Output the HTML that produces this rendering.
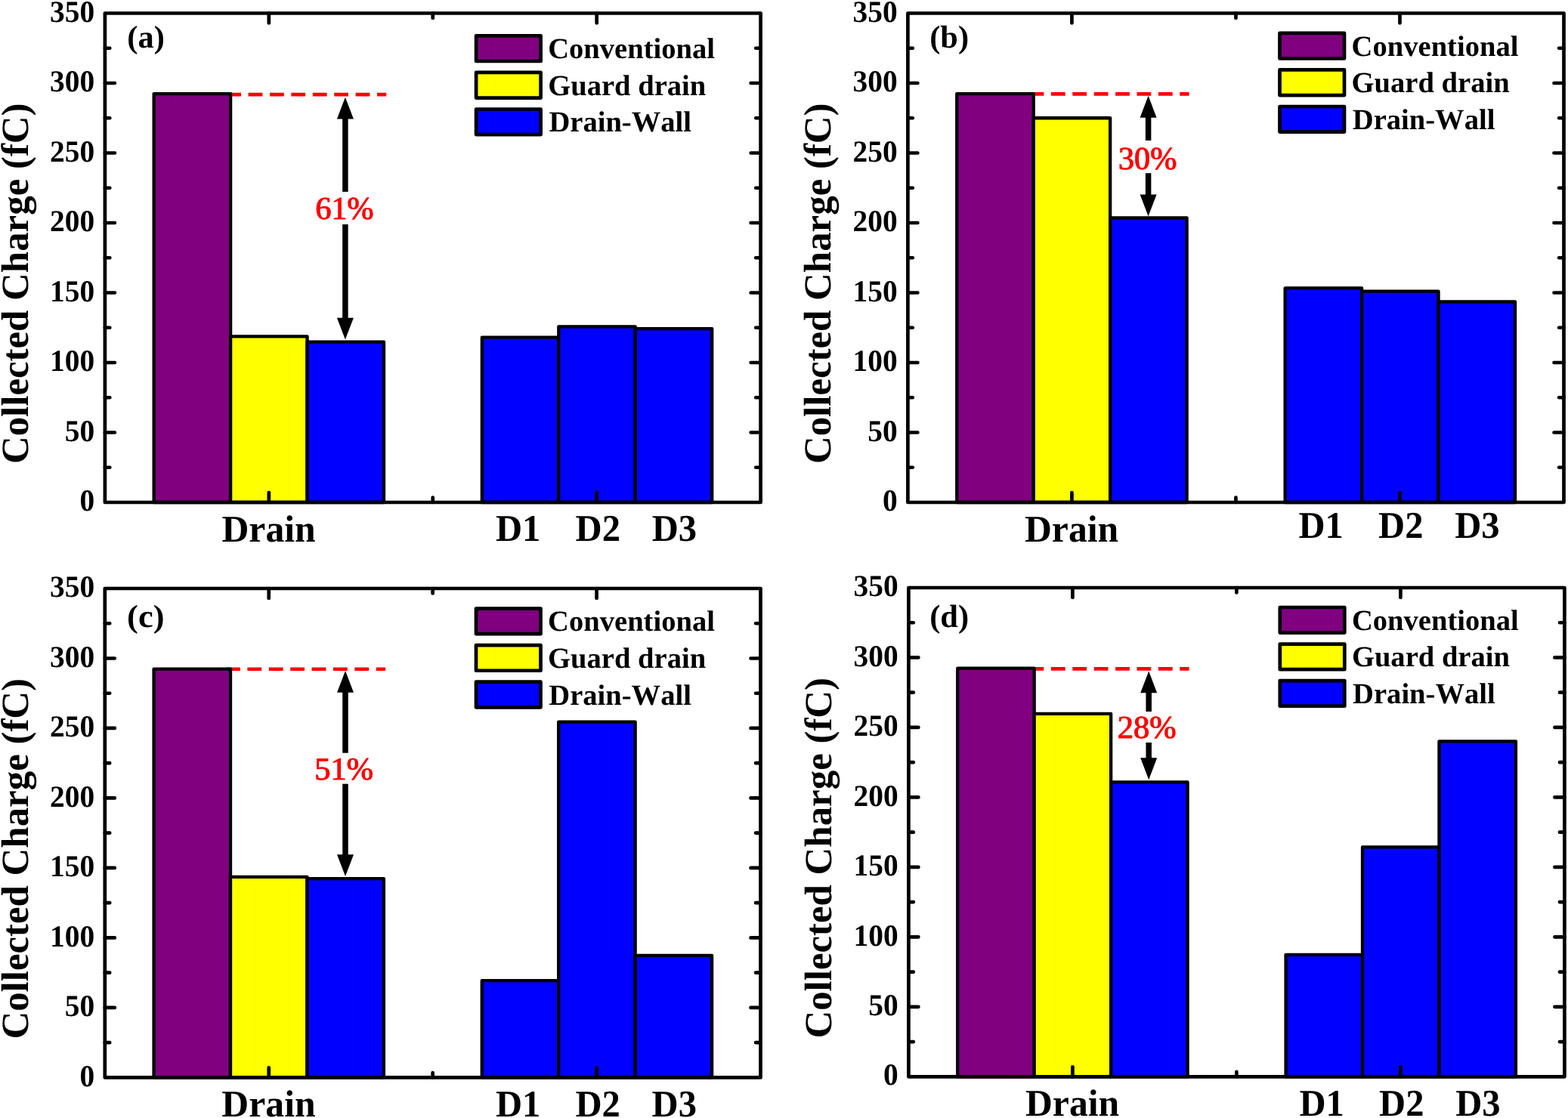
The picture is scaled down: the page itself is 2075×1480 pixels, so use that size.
<!DOCTYPE html>
<html lang="en">
<head>
<meta charset="utf-8">
<title>Collected Charge (fC) - Drain, D1, D2, D3</title>
<style>
html,body{margin:0;padding:0;background:#fff;}
body{width:2075px;height:1480px;overflow:hidden;}
svg{display:block;}
text{font-family:"Liberation Serif","Times New Roman",Times,serif;font-weight:bold;font-kerning:none;font-variant-ligatures:none;white-space:pre;text-rendering:geometricPrecision;}
.r{font-weight:normal;}
</style>
</head>
<body>
<svg width="2075" height="1480" viewBox="0 0 2075 1480">
<defs><filter id="fb" x="-10%" y="-10%" width="120%" height="120%" color-interpolation-filters="sRGB"><feOffset in="SourceGraphic" dx="0.9" dy="0" result="o"/><feMerge><feMergeNode in="SourceGraphic"/><feMergeNode in="o"/></feMerge></filter></defs>
<rect width="2075" height="1480" fill="#fff"/>
<g>
<path d="M300.2 125.16H511.3" stroke="#ff0000" stroke-width="4.7" stroke-dasharray="18.8 9.6" fill="none"/>
<g stroke="#000" stroke-width="4.3" stroke-linejoin="round">
<rect x="203.65" y="124.06" width="101.45" height="540.94" fill="#800080"/>
<rect x="305.1" y="445.4" width="101.45" height="219.6" fill="#ffff00"/>
<rect x="406.55" y="452.62" width="101.45" height="212.38" fill="#0000ff"/>
<rect x="637.85" y="446.7" width="101.45" height="218.3" fill="#0000ff"/>
<rect x="739.3" y="432.45" width="101.45" height="232.55" fill="#0000ff"/>
<rect x="840.75" y="435.04" width="101.45" height="229.96" fill="#0000ff"/>
</g>
<g stroke="#000" stroke-width="4.7" stroke-linecap="round" fill="none">
<path d="M138.9 618.75h6.4M1006.6 618.75h-6.4M138.9 572.5h13M1006.6 572.5h-13M138.9 526.25h6.4M1006.6 526.25h-6.4M138.9 480h13M1006.6 480h-13M138.9 433.75h6.4M1006.6 433.75h-6.4M138.9 387.5h13M1006.6 387.5h-13M138.9 341.25h6.4M1006.6 341.25h-6.4M138.9 295h13M1006.6 295h-13M138.9 248.75h6.4M1006.6 248.75h-6.4M138.9 202.5h13M1006.6 202.5h-13M138.9 156.25h6.4M1006.6 156.25h-6.4M138.9 110h13M1006.6 110h-13M138.9 63.75h6.4M1006.6 63.75h-6.4M355.83 665v-13M355.83 17.5v13M572.75 665v-6.4M572.75 17.5v6.4M789.68 665v-13M789.68 17.5v13"/>
<rect x="138.9" y="17.5" width="867.7" height="647.5" stroke-linejoin="round"/>
</g>
<text transform="translate(105.5 676.16) scale(1 1.026)" font-size="39.4">0</text>
<text transform="translate(85.8 583.66) scale(1 1.026)" font-size="39.4">50</text>
<text transform="translate(66.1 491.16) scale(1 1.026)" font-size="39.4">100</text>
<text transform="translate(66.1 398.66) scale(1 1.026)" font-size="39.4">150</text>
<text transform="translate(66.1 306.16) scale(1 1.026)" font-size="39.4">200</text>
<text transform="translate(66.1 213.66) scale(1 1.026)" font-size="39.4">250</text>
<text transform="translate(66.1 121.16) scale(1 1.026)" font-size="39.4">300</text>
<text transform="translate(66.1 28.66) scale(1 1.026)" font-size="39.4">350</text>
<text transform="translate(36.9 614.09) rotate(-90) scale(1 1)" font-size="50.9">Collected Charge (fC)</text>
<text transform="translate(293.46 717.05) scale(1 1.01)" font-size="49.7">Drain</text>
<text transform="translate(655.98 716.3) scale(1 1.03)" font-size="48.6">D1</text>
<text transform="translate(761.62 716.3) scale(1 1.03)" font-size="48.6">D2</text>
<text transform="translate(862.7 716.3) scale(1 1.03)" font-size="48.6">D3</text>
<text transform="translate(168.33 63.08) scale(1 0.9865)" font-size="42.48">(a)</text>
<g stroke="#000" stroke-width="4.7" stroke-linejoin="round">
<rect x="630.1" y="47.4" width="85.5" height="33.6" fill="#800080"/>
<rect x="630.1" y="95.95" width="85.5" height="33.6" fill="#ffff00"/>
<rect x="630.1" y="144.5" width="85.5" height="33.6" fill="#0000ff"/>
</g>
<text x="725.22" y="77.2" font-size="38.6">Conventional</text>
<text x="725.22" y="125.75" font-size="38.6">Guard drain</text>
<text x="726.42" y="174.3" font-size="38.6">Drain-Wall</text>
<path fill="#000" d="M456.9 128.76l11 28.8h-7.25V420.72h7.25l-11 28.8l-11 -28.8h7.25V157.56h-7.25z"/>
<rect x="415.77" y="253.9" width="79.75" height="43.1" fill="#fff"/>
<text transform="translate(416.97 290.26) scale(1 1.018)" font-size="42" class="r" fill="#ff0000" stroke="#ff0000" stroke-width="0.25" filter="url(#fb)">61%</text>
</g>
<g>
<path d="M1362.5 124.36H1573.6" stroke="#ff0000" stroke-width="4.7" stroke-dasharray="18.8 9.6" fill="none"/>
<g stroke="#000" stroke-width="4.3" stroke-linejoin="round">
<rect x="1266.25" y="124.06" width="101.45" height="540.94" fill="#800080"/>
<rect x="1367.7" y="156.25" width="101.45" height="508.75" fill="#ffff00"/>
<rect x="1469.15" y="288.52" width="101.45" height="376.48" fill="#0000ff"/>
<rect x="1700.65" y="381.39" width="101.45" height="283.61" fill="#0000ff"/>
<rect x="1802.1" y="385.65" width="101.45" height="279.35" fill="#0000ff"/>
<rect x="1903.55" y="399.52" width="101.45" height="265.48" fill="#0000ff"/>
</g>
<g stroke="#000" stroke-width="4.7" stroke-linecap="round" fill="none">
<path d="M1201.4 618.75h6.4M2069.5 618.75h-6.4M1201.4 572.5h13M2069.5 572.5h-13M1201.4 526.25h6.4M2069.5 526.25h-6.4M1201.4 480h13M2069.5 480h-13M1201.4 433.75h6.4M2069.5 433.75h-6.4M1201.4 387.5h13M2069.5 387.5h-13M1201.4 341.25h6.4M2069.5 341.25h-6.4M1201.4 295h13M2069.5 295h-13M1201.4 248.75h6.4M2069.5 248.75h-6.4M1201.4 202.5h13M2069.5 202.5h-13M1201.4 156.25h6.4M2069.5 156.25h-6.4M1201.4 110h13M2069.5 110h-13M1201.4 63.75h6.4M2069.5 63.75h-6.4M1418.43 665v-13M1418.43 17.5v13M1635.45 665v-6.4M1635.45 17.5v6.4M1852.47 665v-13M1852.47 17.5v13"/>
<rect x="1201.4" y="17.5" width="868.1" height="647.5" stroke-linejoin="round"/>
</g>
<text transform="translate(1168 676.16) scale(1 1.026)" font-size="39.4">0</text>
<text transform="translate(1148.3 583.66) scale(1 1.026)" font-size="39.4">50</text>
<text transform="translate(1128.6 491.16) scale(1 1.026)" font-size="39.4">100</text>
<text transform="translate(1128.6 398.66) scale(1 1.026)" font-size="39.4">150</text>
<text transform="translate(1128.6 306.16) scale(1 1.026)" font-size="39.4">200</text>
<text transform="translate(1128.6 213.66) scale(1 1.026)" font-size="39.4">250</text>
<text transform="translate(1128.6 121.16) scale(1 1.026)" font-size="39.4">300</text>
<text transform="translate(1128.6 28.66) scale(1 1.026)" font-size="39.4">350</text>
<text transform="translate(1099.4 614.09) rotate(-90) scale(1 1)" font-size="50.9">Collected Charge (fC)</text>
<text transform="translate(1355.96 717.05) scale(1 1.01)" font-size="49.7">Drain</text>
<text transform="translate(1718.48 712.3) scale(1 1.03)" font-size="48.6">D1</text>
<text transform="translate(1824.12 712.3) scale(1 1.03)" font-size="48.6">D2</text>
<text transform="translate(1925.2 712.3) scale(1 1.03)" font-size="48.6">D3</text>
<text transform="translate(1230.13 63.05) scale(1 0.9888)" font-size="42.49">(b)</text>
<g stroke="#000" stroke-width="4.7" stroke-linejoin="round">
<rect x="1693.5" y="43.9" width="85.5" height="33.6" fill="#800080"/>
<rect x="1693.5" y="92.45" width="85.5" height="33.6" fill="#ffff00"/>
<rect x="1693.5" y="141" width="85.5" height="33.6" fill="#0000ff"/>
</g>
<text x="1788.62" y="73.7" font-size="38.6">Conventional</text>
<text x="1788.62" y="122.25" font-size="38.6">Guard drain</text>
<text x="1789.82" y="170.8" font-size="38.6">Drain-Wall</text>
<path fill="#000" d="M1519.6 126.86l11 28.8h-7.25V257.42h7.25l-11 28.8l-11 -28.8h7.25V155.66h-7.25z"/>
<rect x="1478.58" y="186" width="79.75" height="43.2" fill="#fff"/>
<text transform="translate(1479.56 223.66) scale(1 1.0187)" font-size="42.12" class="r" fill="#ff0000" stroke="#ff0000" stroke-width="0.25" filter="url(#fb)">30%</text>
</g>
<g>
<path d="M299 885.74H510.1" stroke="#ff0000" stroke-width="4.7" stroke-dasharray="18.8 9.6" fill="none"/>
<g stroke="#000" stroke-width="4.3" stroke-linejoin="round">
<rect x="203.55" y="885.54" width="101.45" height="540.86" fill="#800080"/>
<rect x="305" y="1160.78" width="101.45" height="265.62" fill="#ffff00"/>
<rect x="406.45" y="1163.19" width="101.45" height="263.21" fill="#0000ff"/>
<rect x="637.75" y="1298.21" width="101.45" height="128.19" fill="#0000ff"/>
<rect x="739.2" y="955.65" width="101.45" height="470.75" fill="#0000ff"/>
<rect x="840.65" y="1264.92" width="101.45" height="161.48" fill="#0000ff"/>
</g>
<g stroke="#000" stroke-width="4.7" stroke-linecap="round" fill="none">
<path d="M138.8 1380.16h6.4M1006.5 1380.16h-6.4M138.8 1333.91h13M1006.5 1333.91h-13M138.8 1287.67h6.4M1006.5 1287.67h-6.4M138.8 1241.43h13M1006.5 1241.43h-13M138.8 1195.19h6.4M1006.5 1195.19h-6.4M138.8 1148.94h13M1006.5 1148.94h-13M138.8 1102.7h6.4M1006.5 1102.7h-6.4M138.8 1056.46h13M1006.5 1056.46h-13M138.8 1010.21h6.4M1006.5 1010.21h-6.4M138.8 963.97h13M1006.5 963.97h-13M138.8 917.73h6.4M1006.5 917.73h-6.4M138.8 871.49h13M1006.5 871.49h-13M138.8 825.24h6.4M1006.5 825.24h-6.4M355.73 1426.4v-13M355.73 779v13M572.65 1426.4v-6.4M572.65 779v6.4M789.58 1426.4v-13M789.58 779v13"/>
<rect x="138.8" y="779" width="867.7" height="647.4" stroke-linejoin="round"/>
</g>
<text transform="translate(105.4 1437.56) scale(1 1.026)" font-size="39.4">0</text>
<text transform="translate(85.7 1345.07) scale(1 1.026)" font-size="39.4">50</text>
<text transform="translate(66 1252.58) scale(1 1.026)" font-size="39.4">100</text>
<text transform="translate(66 1160.1) scale(1 1.026)" font-size="39.4">150</text>
<text transform="translate(66 1067.61) scale(1 1.026)" font-size="39.4">200</text>
<text transform="translate(66 975.13) scale(1 1.026)" font-size="39.4">250</text>
<text transform="translate(66 882.64) scale(1 1.026)" font-size="39.4">300</text>
<text transform="translate(66 790.16) scale(1 1.026)" font-size="39.4">350</text>
<text transform="translate(36.8 1375.59) rotate(-90) scale(1 1)" font-size="50.9">Collected Charge (fC)</text>
<text transform="translate(293.36 1478.45) scale(1 1.01)" font-size="49.7">Drain</text>
<text transform="translate(655.88 1477.7) scale(1 1.03)" font-size="48.6">D1</text>
<text transform="translate(761.52 1477.7) scale(1 1.03)" font-size="48.6">D2</text>
<text transform="translate(862.6 1477.7) scale(1 1.03)" font-size="48.6">D3</text>
<text transform="translate(168.1 830.38) scale(1 0.9523)" font-size="44.47">(c)</text>
<g stroke="#000" stroke-width="4.7" stroke-linejoin="round">
<rect x="630" y="805.6" width="85.5" height="33.6" fill="#800080"/>
<rect x="630" y="854.15" width="85.5" height="33.6" fill="#ffff00"/>
<rect x="630" y="902.7" width="85.5" height="33.6" fill="#0000ff"/>
</g>
<text x="725.12" y="835.4" font-size="38.6">Conventional</text>
<text x="725.12" y="883.95" font-size="38.6">Guard drain</text>
<text x="726.32" y="932.5" font-size="38.6">Drain-Wall</text>
<path fill="#000" d="M457 887.94l11 28.8h-7.25V1131.29h7.25l-11 28.8l-11 -28.8h7.25V916.74h-7.25z"/>
<rect x="415.27" y="996.75" width="79.75" height="40.95" fill="#fff"/>
<text transform="translate(415.81 1032.47) scale(1 1.0023)" font-size="42.37" class="r" fill="#ff0000" stroke="#ff0000" stroke-width="0.25" filter="url(#fb)">51%</text>
</g>
<g>
<path d="M1362.48 885.43H1573.58" stroke="#ff0000" stroke-width="4.7" stroke-dasharray="18.8 9.6" fill="none"/>
<g stroke="#000" stroke-width="4.3" stroke-linejoin="round">
<rect x="1267.23" y="884.53" width="101.45" height="540.77" fill="#800080"/>
<rect x="1368.68" y="944.82" width="101.45" height="480.48" fill="#ffff00"/>
<rect x="1470.13" y="1035.44" width="101.45" height="389.86" fill="#0000ff"/>
<rect x="1701.58" y="1263.84" width="101.45" height="161.46" fill="#0000ff"/>
<rect x="1803.03" y="1121.44" width="101.45" height="303.86" fill="#0000ff"/>
<rect x="1904.48" y="981.44" width="101.45" height="443.86" fill="#0000ff"/>
</g>
<g stroke="#000" stroke-width="4.7" stroke-linecap="round" fill="none">
<path d="M1202.4 1379.06h6.4M2070.4 1379.06h-6.4M1202.4 1332.83h13M2070.4 1332.83h-13M1202.4 1286.59h6.4M2070.4 1286.59h-6.4M1202.4 1240.36h13M2070.4 1240.36h-13M1202.4 1194.12h6.4M2070.4 1194.12h-6.4M1202.4 1147.89h13M2070.4 1147.89h-13M1202.4 1101.65h6.4M2070.4 1101.65h-6.4M1202.4 1055.41h13M2070.4 1055.41h-13M1202.4 1009.18h6.4M2070.4 1009.18h-6.4M1202.4 962.94h13M2070.4 962.94h-13M1202.4 916.71h6.4M2070.4 916.71h-6.4M1202.4 870.47h13M2070.4 870.47h-13M1202.4 824.24h6.4M2070.4 824.24h-6.4M1419.4 1425.3v-13M1419.4 778v13M1636.4 1425.3v-6.4M1636.4 778v6.4M1853.4 1425.3v-13M1853.4 778v13"/>
<rect x="1202.4" y="778" width="868" height="647.3" stroke-linejoin="round"/>
</g>
<text transform="translate(1169 1436.46) scale(1 1.026)" font-size="39.4">0</text>
<text transform="translate(1149.3 1343.98) scale(1 1.026)" font-size="39.4">50</text>
<text transform="translate(1129.6 1251.51) scale(1 1.026)" font-size="39.4">100</text>
<text transform="translate(1129.6 1159.04) scale(1 1.026)" font-size="39.4">150</text>
<text transform="translate(1129.6 1066.57) scale(1 1.026)" font-size="39.4">200</text>
<text transform="translate(1129.6 974.1) scale(1 1.026)" font-size="39.4">250</text>
<text transform="translate(1129.6 881.63) scale(1 1.026)" font-size="39.4">300</text>
<text transform="translate(1129.6 789.16) scale(1 1.026)" font-size="39.4">350</text>
<text transform="translate(1100.4 1374.59) rotate(-90) scale(1 1)" font-size="50.9">Collected Charge (fC)</text>
<text transform="translate(1356.96 1477.35) scale(1 1.01)" font-size="49.7">Drain</text>
<text transform="translate(1719.48 1476.6) scale(1 1.03)" font-size="48.6">D1</text>
<text transform="translate(1825.12 1476.6) scale(1 1.03)" font-size="48.6">D2</text>
<text transform="translate(1926.2 1476.6) scale(1 1.03)" font-size="48.6">D3</text>
<text transform="translate(1230.13 830.38) scale(1 0.9966)" font-size="42.49">(d)</text>
<g stroke="#000" stroke-width="4.7" stroke-linejoin="round">
<rect x="1693.8" y="804" width="85.5" height="33.6" fill="#800080"/>
<rect x="1693.8" y="852.55" width="85.5" height="33.6" fill="#ffff00"/>
<rect x="1693.8" y="901.1" width="85.5" height="33.6" fill="#0000ff"/>
</g>
<text x="1788.92" y="833.8" font-size="38.6">Conventional</text>
<text x="1788.92" y="882.35" font-size="38.6">Guard drain</text>
<text x="1790.12" y="930.9" font-size="38.6">Drain-Wall</text>
<path fill="#000" d="M1520.2 888.43l11 28.8h-7.25V1003.34h7.25l-11 28.8l-11 -28.8h7.25V917.23h-7.25z"/>
<rect x="1477.18" y="942" width="80.45" height="40.95" fill="#fff"/>
<text transform="translate(1478.31 976.96) scale(1 1.0096)" font-size="42.42" class="r" fill="#ff0000" stroke="#ff0000" stroke-width="0.25" filter="url(#fb)">28%</text>
</g>
</svg>
</body>
</html>
